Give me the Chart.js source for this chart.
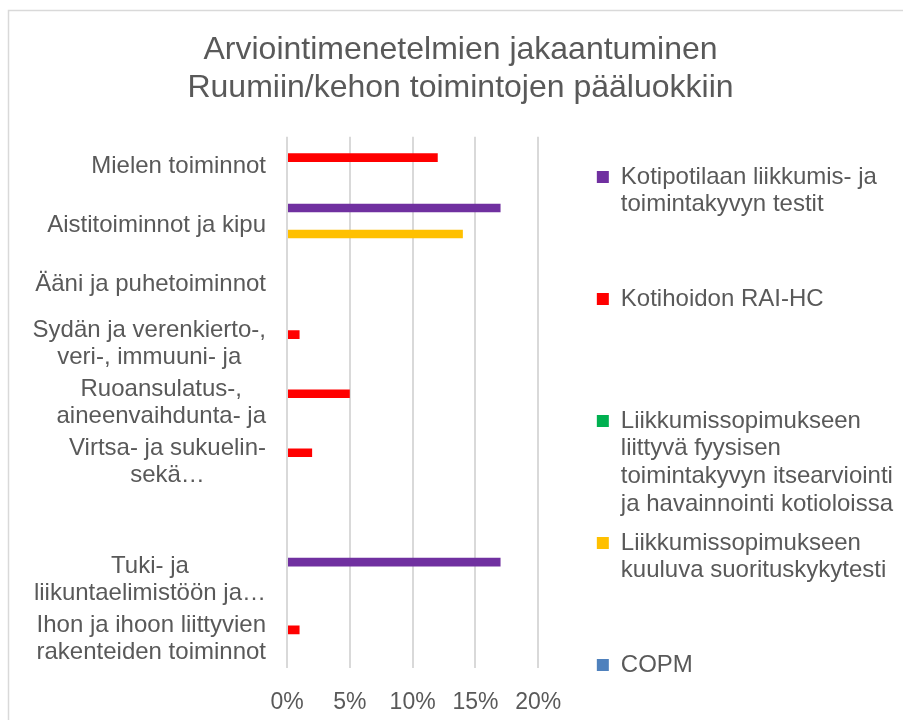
<!DOCTYPE html>
<html>
<head>
<meta charset="utf-8">
<script src="https://cdn.jsdelivr.net/npm/chart.js@4.4.1/dist/chart.umd.min.js"></script>
<style>
  body { margin: 0; background: #ffffff; }
  canvas { display: block; }
</style>
</head>
<body>
<canvas id="chart" width="903" height="720"></canvas>
<script>
const titleLines = ["Arviointimenetelmien jakaantuminen", "Ruumiin/kehon toimintojen pääluokkiin"];

const categories = [
  "Mielen toiminnot",
  "Aistitoiminnot ja kipu",
  "Ääni ja puhetoiminnot",
  ["Sydän ja verenkierto-,", "veri-, immuuni- ja"],
  ["Ruoansulatus-,", "aineenvaihdunta- ja"],
  ["Virtsa- ja sukuelin-", "sekä…"],
  "",
  ["Tuki- ja", "liikuntaelimistöön ja…"],
  ["Ihon ja ihoon liittyvien", "rakenteiden toiminnot"],
];

const seriesNames = [
  ["Kotipotilaan liikkumis- ja", "toimintakyvyn testit"],
  ["Kotihoidon RAI-HC"],
  ["Liikkumissopimukseen", "liittyvä fyysisen", "toimintakyvyn itsearviointi", "ja havainnointi kotioloissa"],
  ["Liikkumissopimukseen", "kuuluva suorituskykytesti"],
  ["COPM"],
];
const seriesColors = ["#7030A0", "#FF0000", "#00B050", "#FFC000", "#4F81BD"];

// percent values per category
const kotipotilaan = [0, 17, 0, 0, 0, 0, 0, 17, 0];
const kotihoidonRai = [12, 0, 0, 1, 5, 2, 0, 0, 1];
const liikkumisItsearviointi = [0, 0, 0, 0, 0, 0, 0, 0, 0];
const liikkumisSuorituskyky = [0, 14, 0, 0, 0, 0, 0, 0, 0];
const copm = [0, 0, 0, 0, 0, 0, 0, 0, 0];
const seriesValues = [kotipotilaan, kotihoidonRai, liikkumisItsearviointi, liikkumisSuorituskyky, copm];

const xTicks = [0, 5, 10, 15, 20];

const textColor = "#595959";
const fontFamily = "'Liberation Sans', Arial, sans-serif";
Chart.defaults.font.family = fontFamily;
Chart.defaults.color = textColor;

// thin grey frame of the chart object (left + top edges are visible)
const framePlugin = {
  id: "frame",
  beforeDraw(chart) {
    const ctx = chart.ctx;
    ctx.save();
    ctx.strokeStyle = "#d9d9d9";
    ctx.lineWidth = 1.5;
    ctx.beginPath();
    ctx.moveTo(8.5, chart.height);
    ctx.lineTo(8.5, 10.5);
    ctx.lineTo(chart.width, 10.5);
    ctx.stroke();
    ctx.restore();
  },
};

// category labels: block right-aligned, lines centred inside the block
const categoryLabelPlugin = {
  id: "categoryLabels",
  afterDraw(chart) {
    const ctx = chart.ctx;
    const yScale = chart.scales.y;
    const right = chart.chartArea.left - 21;
    const lineHeight = 27;
    ctx.save();
    ctx.font = "24px " + fontFamily;
    ctx.fillStyle = textColor;
    ctx.textAlign = "center";
    ctx.textBaseline = "middle";
    categories.forEach((label, i) => {
      const lines = Array.isArray(label) ? label : [label];
      const widest = Math.max(...lines.map((l) => ctx.measureText(l).width));
      const cx = right - widest / 2;
      const yc = yScale.getPixelForValue(i);
      lines.forEach((line, j) => {
        ctx.fillText(line, cx, yc + (j - (lines.length - 1) / 2) * lineHeight);
      });
    });
    ctx.restore();
  },
};

new Chart(document.getElementById("chart"), {
  type: "bar",
  data: {
    labels: categories.map((c) => (Array.isArray(c) ? c.join(" ") : c)),
    datasets: seriesNames.map((name, i) => ({
      label: name.join(" "),
      data: seriesValues[i],
      backgroundColor: seriesColors[i],
      borderWidth: 0,
      categoryPercentage: 0.735,
      barPercentage: 1.0,
    })),
  },
  options: {
    indexAxis: "y",
    responsive: false,
    animation: false,
    devicePixelRatio: 1,
    layout: { padding: { left: 18, right: 0, top: 0, bottom: 6 } },
    plugins: {
      title: {
        display: true,
        text: titleLines,
        color: textColor,
        font: { size: 32, weight: "normal", lineHeight: 1.2 },
        padding: { top: 31, bottom: 29 },
      },
      legend: {
        position: "right",
        align: "start",
        maxWidth: 340,
        title: { display: true, text: "", font: { size: 10, lineHeight: 1 }, padding: { top: 143.5, bottom: 0 } },
        labels: {
          boxWidth: 12,
          boxHeight: 12,
          padding: 11.6,
          color: textColor,
          font: { size: 24, lineHeight: 1.15 },
          generateLabels(chart) {
            const items = Chart.defaults.plugins.legend.labels.generateLabels(chart);
            return items.map((item, i) => {
              const lines = seriesNames[i].slice();
              if (i < seriesNames.length - 1) {
                while (lines.length < 4) lines.push("");
              }
              item.text = lines;
              item.lineWidth = 0;
              return item;
            });
          },
        },
      },
      tooltip: { enabled: false },
    },
    scales: {
      x: {
        min: 0,
        max: 20,
        afterBuildTicks(scale) {
          scale.ticks = xTicks.map((v) => ({ value: v }));
        },
        afterFit(scale) {
          scale.height = 46;
        },
        ticks: {
          padding: 21,
          color: textColor,
          font: { size: 23 },
          callback: (v) => v + "%",
        },
        grid: { color: "#d9d9d9", lineWidth: 2, drawTicks: false },
        border: { display: false },
      },
      y: {
        grid: { display: false },
        border: { display: false },
        ticks: { display: false },
        afterFit(scale) {
          scale.width = 269;
        },
      },
      y2: {
        type: "category",
        position: "right",
        grid: { display: false },
        border: { display: false },
        ticks: { display: false },
        afterFit(scale) {
          scale.width = 47;
        },
      },
    },
  },
  plugins: [framePlugin, categoryLabelPlugin],
});
</script>
</body>
</html>
